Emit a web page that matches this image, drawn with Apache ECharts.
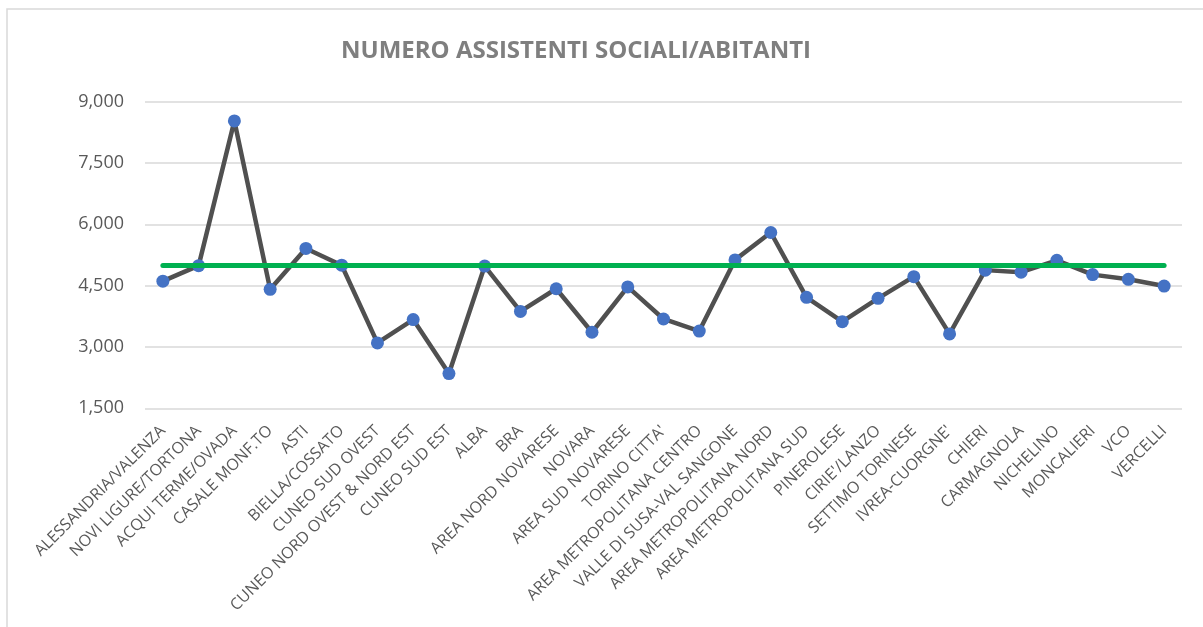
<!DOCTYPE html>
<html>
<head>
<meta charset="utf-8">
<script src="https://cdn.jsdelivr.net/npm/echarts@6/dist/echarts.min.js"></script>
<style>
  html, body { margin: 0; padding: 0; background: #fff; }
  #chart { width: 1203px; height: 627px; }
</style>
</head>
<body>
<div id="chart"></div>
<script>
const categories = [
    'ALESSANDRIA/VALENZA', 'NOVI LIGURE/TORTONA', 'ACQUI TERME/OVADA', 'CASALE MONF.TO',
    'ASTI', 'BIELLA/COSSATO', 'CUNEO SUD OVEST', 'CUNEO NORD OVEST & NORD EST',
    'CUNEO SUD EST', 'ALBA', 'BRA', 'AREA NORD NOVARESE', 'NOVARA', 'AREA SUD NOVARESE',
    "TORINO CITTA'", 'AREA METROPOLITANA CENTRO', 'VALLE DI SUSA-VAL SANGONE',
    'AREA METROPOLITANA NORD', 'AREA METROPOLITANA SUD', 'PINEROLESE', "CIRIE'/LANZO",
    'SETTIMO TORINESE', "IVREA-CUORGNE'", 'CHIERI', 'CARMAGNOLA', 'NICHELINO',
    'MONCALIERI', 'VCO', 'VERCELLI'
];
const abitantiPerAssistente = [
    4610, 4990, 8530, 4410, 5410, 5000, 3100, 3670,
    2350, 4980, 3870, 4425, 3360, 4470,
    3685, 3390, 5130,
    5800, 4215, 3620, 4190,
    4720, 3320, 4880, 4830, 5120,
    4770, 4655, 4490
];
const targetValue = 5000;
const yTicks = { min: 1500, max: 9000, interval: 1500 };

const chart = echarts.init(document.getElementById('chart'), null, { renderer: 'canvas' });

var option = {
    animation: false,
    backgroundColor: '#ffffff',
    graphic: [{
        type: 'rect',
        shape: { x: 7, y: 9, width: 1400, height: 800 },
        style: { fill: 'none', stroke: '#d9d9d9', lineWidth: 1.5 },
        silent: true
    }],
    title: {
        text: 'NUMERO ASSISTENTI SOCIALI/ABITANTI',
        left: 571,
        top: 34,
        textAlign: 'center',
        textStyle: {
            fontFamily: 'Open Sans',
            fontWeight: 'bold',
            fontSize: 24,
            color: '#7f7f7f'
        }
    },
    grid: {
        left: 145,
        right: 21,
        top: 101.7,
        bottom: 218.7,
        containLabel: false
    },
    xAxis: {
        type: 'category',
        data: categories,
        boundaryGap: true,
        axisLine: { show: false },
        axisTick: { show: false },
        axisLabel: {
            interval: 0,
            rotate: 45,
            margin: 20,
            fontFamily: 'Open Sans',
            fontSize: 16,
            color: '#595959'
        }
    },
    yAxis: {
        type: 'value',
        min: yTicks.min,
        max: yTicks.max,
        interval: yTicks.interval,
        axisLine: { show: false },
        axisTick: { show: false },
        splitLine: { lineStyle: { color: '#d9d9d9', width: 1.5 } },
        axisLabel: {
            margin: 21,
            fontFamily: 'Open Sans',
            fontSize: 18,
            color: '#595959',
            formatter: function (v) { return v.toLocaleString('en-US'); }
        }
    },
    series: [
        {
            name: 'Abitanti per assistente sociale',
            type: 'line',
            data: abitantiPerAssistente,
            z: 2,
            symbol: 'circle',
            symbolSize: 13,
            itemStyle: { color: '#4472c4' },
            lineStyle: { color: '#505050', width: 4.5 }
        },
        {
            name: 'Riferimento',
            type: 'line',
            data: [],
            z: 5,
            markLine: {
                silent: true,
                symbol: 'none',
                label: { show: false },
                lineStyle: { color: '#00b050', width: 5, type: 'solid', cap: 'round' },
                data: [[
                    { coord: [categories[0], targetValue] },
                    { coord: [categories[categories.length - 1], targetValue] }
                ]]
            }
        }
    ]
};
chart.setOption(option, true);
</script>
</body>
</html>
